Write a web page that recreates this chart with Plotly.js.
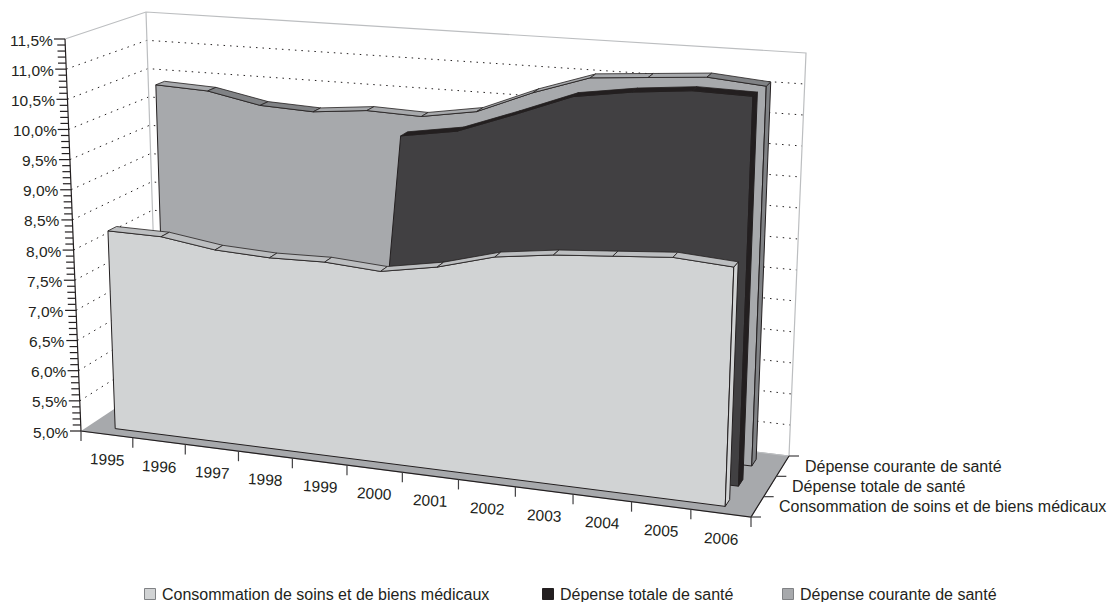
<!DOCTYPE html>
<html lang="fr">
<head>
<meta charset="utf-8">
<title>Dépenses de santé en % du PIB</title>
<script src="https://cdn.plot.ly/plotly-3.0.1.min.js"></script>
<style>html,body{margin:0;padding:0;background:#fff}#chart{width:1109px;height:602px}</style>
</head>
<body>
<div id="chart"></div>
<script>
// Years on the category axis
const years = ["1995","1996","1997","1998","1999","2000","2001","2002","2003","2004","2005","2006"];
// Share of GDP, in percent
const consommation = [8.29,8.28,8.15,8.11,8.13,8.07,8.23,8.48,8.60,8.67,8.74,8.68];
const depenseTotale = [null,null,null,null,null,10.05,10.20,10.54,10.90,11.04,11.13,11.11];
const depenseCourante = [10.37,10.33,10.15,10.11,10.20,10.17,10.32,10.70,11.01,11.08,11.15,11.07];
const seriesNames = ["Consommation de soins et de biens médicaux","Dépense totale de santé","Dépense courante de santé"];
const valueTicks = ["5,0%","5,5%","6,0%","6,5%","7,0%","7,5%","8,0%","8,5%","9,0%","9,5%","10,0%","10,5%","11,0%","11,5%"];

const V_MIN = 5, V_MAX = 11.5;
const INK = "#231f20", FONT = "Liberation Sans, Arial, sans-serif";

// Screen position of the eight corners of the plotting box (front/back, left/right, bottom/top)
const box = {
  flb:[81,431],  flt:[65,39],  frb:[751,517], frt:[767.5,90],
  blb:[158,380], blt:[146,12], brb:[789,456], brt:[806,53]
};
const lerp = (a,b,t) => a+(b-a)*t;
// Horizontal foreshortening: the right end of the chart sits nearer the viewer
const warp = u => u/(u+1.085*(1-u));
// Box coordinates (all in 0..1) to screen coordinates
function project(u,h,w){
  const pick = k => lerp(
    lerp(lerp(box.flb[k],box.frb[k],u),lerp(box.flt[k],box.frt[k],u),h),
    lerp(lerp(box.blb[k],box.brb[k],u),lerp(box.blt[k],box.brt[k],u),h),w);
  return [pick(0),pick(1)];
}
const uOf = idx => warp((idx+0.5)/years.length);
const hOf = v => (v-V_MIN)/(V_MAX-V_MIN);
const at = (idx,v,w) => project(uOf(idx),hOf(v),w);

const traces = [];
function poly(points,fill,line,width){
  traces.push({type:"scatter",mode:"lines",x:points.map(p=>p[0]),y:points.map(p=>p[1]),
    fill:"toself",fillcolor:fill,line:{color:line||fill,width:width===undefined?1:width},
    hoverinfo:"skip",showlegend:false});
}
function path(points,color,width,dash){
  traces.push({type:"scatter",mode:"lines",x:points.map(p=>p?p[0]:null),y:points.map(p=>p?p[1]:null),
    line:{color:color,width:width,dash:dash||"solid"},hoverinfo:"skip",showlegend:false,connectgaps:false});
}

// Walls and floor
const wallEdge = "#bcbec0";
poly([project(0,0,0),project(1,0,0),project(1,0,1),project(0,0,1)],"#a7a9ac","#a7a9ac",1);
for (let k=1;k<valueTicks.length-1;k++){
  const h = k/(valueTicks.length-1);
  path([project(0,h,0),project(0,h,1),project(1,h,1)],INK,1,"1.5px,5px");
}
path([project(0,1,0),project(0,1,1),project(1,1,1),project(1,0,1)],wallEdge,1.2);
path([project(0,1,1),project(0,0,1),project(1,0,1)],wallEdge,1.2);

// One ribbon per series, back to front
function ribbon(values,slot,colors){
  const w0 = (slot+1/3)/3, w1 = (slot+2/3)/3;
  const first = values.findIndex(v=>v!==null), last = values.length-1;
  const front = [];
  if (first>0) front.push(at(first-1+V_MIN/values[first],V_MIN,w0)); // line rising from zero, cut at the floor
  else front.push(at(first,V_MIN,w0));
  for (let i=first;i<=last;i++) front.push(at(i,values[i],w0));
  front.push(at(last,V_MIN,w0));
  front.push(front[0]);
  poly(front,colors.front,INK,1);
  poly([at(last,values[last],w0),at(last,values[last],w1),at(last,V_MIN,w1),at(last,V_MIN,w0),at(last,values[last],w0)],colors.cap,INK,1);
  for (let i=first;i<last;i++){
    const falling = values[i+1] < values[i]-0.04;
    poly([at(i,values[i],w0),at(i,values[i],w1),at(i+1,values[i+1],w1),at(i+1,values[i+1],w0),at(i,values[i],w0)],
      falling?colors.topDown:colors.topUp,INK,0.8);
  }
}
ribbon(depenseCourante,2,{front:"#a7a9ac",cap:"#808285",topUp:"#a7a9ac",topDown:"#808285"});
ribbon(depenseTotale,1,{front:"#414042",cap:"#231f20",topUp:"#231f20",topDown:"#231f20"});
ribbon(consommation,0,{front:"#d1d3d4",cap:"#d1d3d4",topUp:"#bcbec0",topDown:"#bcbec0"});

// Axis lines and tick marks
path([project(0,1,0),project(0,0,0),project(1,0,0),project(1,0,1)],INK,1.2);
const ticksMajor = [], ticksMinor = [];
const minorPerMajor = 5;
for (let k=0;k<valueTicks.length;k++){
  const p = project(0,k/(valueTicks.length-1),0);
  ticksMajor.push([p[0]-11,p[1]],p,null);
  if (k<valueTicks.length-1) for (let m=1;m<minorPerMajor;m++){
    const q = project(0,(k+m/minorPerMajor)/(valueTicks.length-1),0);
    ticksMinor.push([q[0]-8,q[1]],q,null);
  }
}
path(ticksMajor,INK,1.2);
path(ticksMinor,INK,1.2);
const ticksX = [];
for (let i=0;i<=years.length;i++){
  const p = project(warp(i/years.length),0,0);
  ticksX.push(p,[p[0],p[1]+10],null);
}
path(ticksX,"#414042",1.2);
const ticksZ = [];
for (let s=0;s<=seriesNames.length;s++){
  const p = project(1,0,s/seriesNames.length);
  ticksZ.push(p,[p[0]+10,p[1]],null);
}
path(ticksZ,"#414042",1.2);

// Text along the three axes
const annotations = [];
const note = (p,text,xanchor,size,angle) => annotations.push({x:p[0],y:p[1],xref:"x",yref:"y",text,xanchor,yanchor:"middle",showarrow:false,
  textangle:angle||0,font:{family:FONT,size:size,color:INK}});
valueTicks.forEach((t,k)=>{
  const p = project(0,k/(valueTicks.length-1),0);
  note([p[0]-10,p[1]+1],t,"right",15.5);
});
years.forEach((t,i)=>{
  const p = project(uOf(i),0,0);
  note([p[0],p[1]+25],t,"center",15.5,3);
});
seriesNames.forEach((t,s)=>{
  const p = project(1,0,(s+0.5)/seriesNames.length);
  note([p[0]+20,p[1]],t,"left",16);
});

// Legend row: square key followed by the series name
const keyStyle = [["#d1d3d4","#808285"],["#231f20","#231f20"],["#a7a9ac","#808285"]];
const keyX = [150,548,788], keyY = 594;
seriesNames.forEach((name,s)=>{
  traces.push({type:"scatter",mode:"markers",x:[keyX[s]],y:[keyY],name,hoverinfo:"skip",showlegend:false,cliponaxis:false,
    marker:{symbol:"square",size:11,color:keyStyle[s][0],line:{color:keyStyle[s][1],width:1}}});
  note([keyX[s]+10,keyY],name,"left",16);
});

const hidden = {visible:false,fixedrange:true};
Plotly.newPlot("chart",traces,{
  width:1109,height:602,margin:{l:0,r:0,t:0,b:0},
  paper_bgcolor:"#fff",plot_bgcolor:"#fff",showlegend:false,
  xaxis:Object.assign({range:[0,1109]},hidden),
  yaxis:Object.assign({range:[602,0]},hidden),
  annotations
},{displayModeBar:false,staticPlot:true});
</script>
</body>
</html>
